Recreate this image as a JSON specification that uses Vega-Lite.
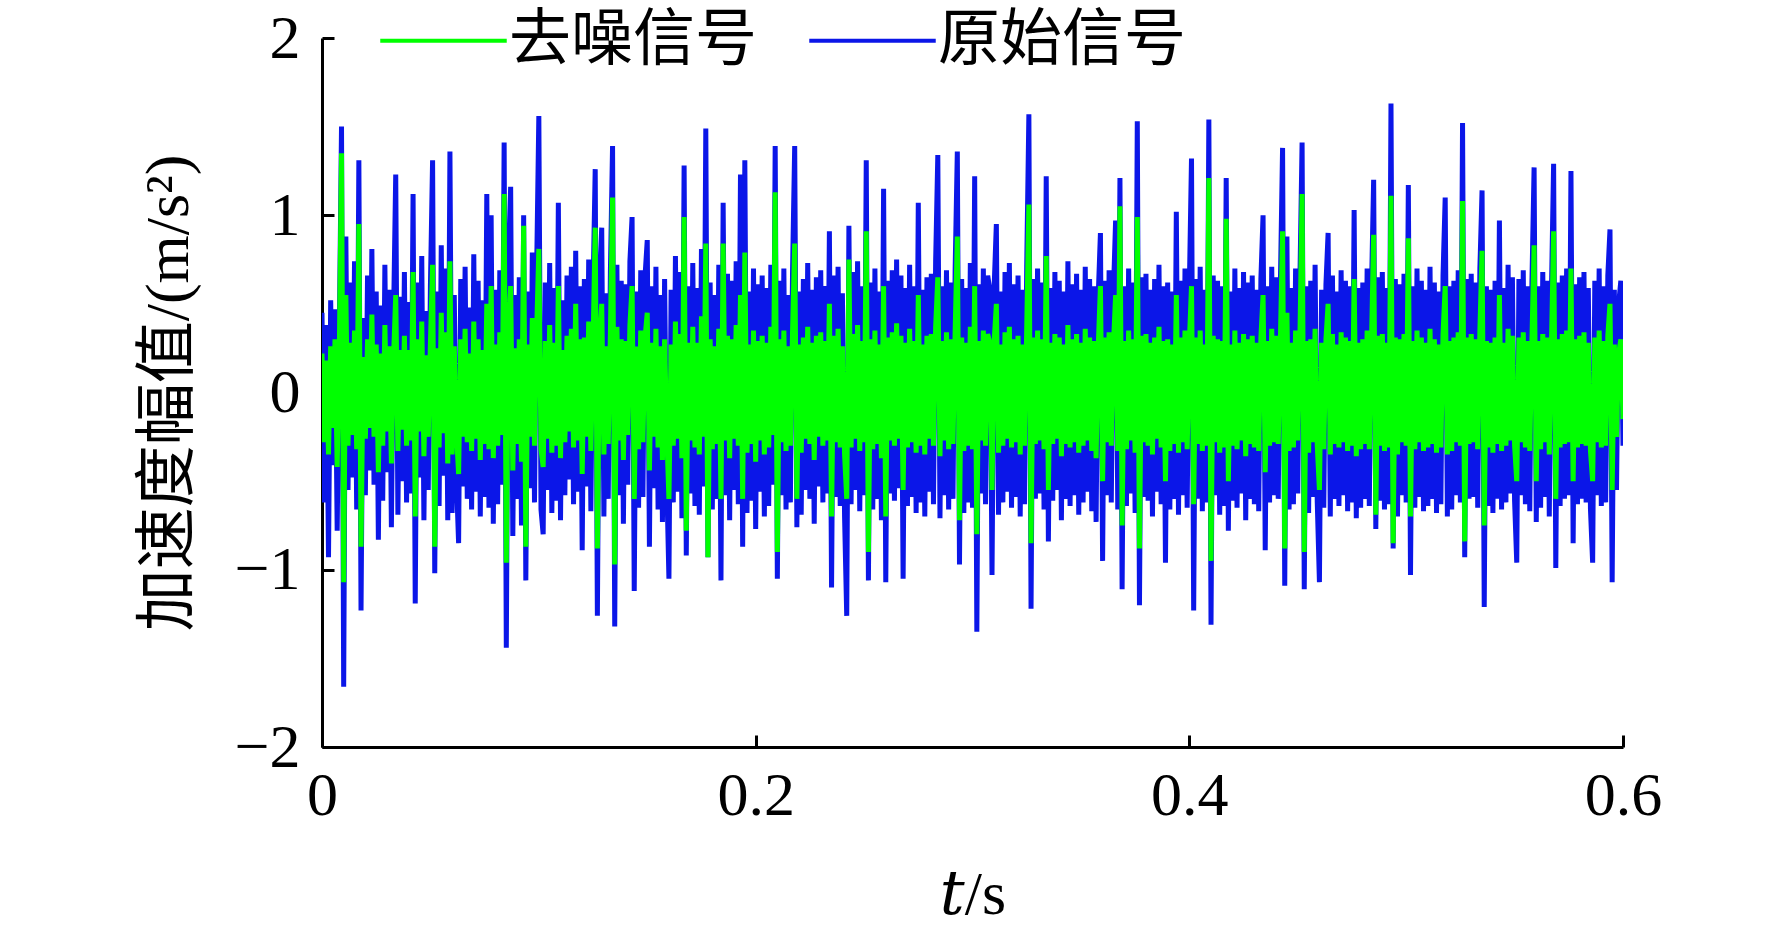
{
  "$schema": "https://vega.github.io/schema/vega-lite/v6.json",
  "width": 1301,
  "height": 709,
  "autosize": {"type": "none"},
  "padding": {"left": 322, "top": 38, "right": 149, "bottom": 186},
  "background": "white",
  "config": {"view": {"stroke": null}, "font": "Liberation Serif"},
  "data": {"values": [
    {"t":0,"o":0.45,"g":0.22},{"t":0.001,"o":-0.62,"g":-0.28},{"t":0.002,"o":0.38,"g":0.18},{"t":0.003,"o":-0.93,"g":-0.35},{"t":0.004,"o":0.52,"g":0.26},{"t":0.005,"o":-0.41,"g":-0.2},{"t":0.006,"o":0.47,"g":0.3},{"t":0.007,"o":-0.78,"g":-0.42},{"t":0.008,"o":0.35,"g":0.25},{"t":0.009,"o":1.5,"g":1.35},
    {"t":0.01,"o":-1.66,"g":-1.07},{"t":0.011,"o":0.88,"g":0.55},{"t":0.012,"o":-0.55,"g":-0.3},{"t":0.013,"o":0.62,"g":0.28},{"t":0.014,"o":-0.48,"g":-0.24},{"t":0.015,"o":0.74,"g":0.35},{"t":0.016,"o":-0.66,"g":-0.32},{"t":0.017,"o":1.31,"g":0.95},{"t":0.018,"o":-1.23,"g":-0.87},{"t":0.019,"o":0.42,"g":0.2},
    {"t":0.02,"o":-0.58,"g":-0.26},{"t":0.021,"o":0.66,"g":0.3},{"t":0.022,"o":-0.44,"g":-0.2},{"t":0.023,"o":0.81,"g":0.44},{"t":0.024,"o":-0.52,"g":-0.25},{"t":0.025,"o":0.57,"g":0.27},{"t":0.026,"o":-0.83,"g":-0.45},{"t":0.027,"o":0.49,"g":0.22},{"t":0.028,"o":-0.61,"g":-0.3},{"t":0.029,"o":0.72,"g":0.38},
    {"t":0.03,"o":-0.45,"g":-0.22},{"t":0.031,"o":0.58,"g":0.26},{"t":0.032,"o":-0.76,"g":-0.4},{"t":0.033,"o":0.43,"g":0.2},{"t":0.034,"o":1.23,"g":0.55},{"t":0.035,"o":-0.69,"g":-0.33},{"t":0.036,"o":0.54,"g":0.24},{"t":0.037,"o":-0.5,"g":-0.21},{"t":0.038,"o":0.68,"g":0.32},{"t":0.039,"o":-0.62,"g":-0.3},
    {"t":0.04,"o":0.51,"g":0.24},{"t":0.041,"o":-0.57,"g":-0.27},{"t":0.042,"o":1.12,"g":0.68},{"t":0.043,"o":-1.19,"g":-0.7},{"t":0.044,"o":0.62,"g":0.3},{"t":0.045,"o":-0.48,"g":-0.22},{"t":0.046,"o":0.77,"g":0.4},{"t":0.047,"o":-0.72,"g":-0.36},{"t":0.048,"o":0.46,"g":0.21},{"t":0.049,"o":-0.55,"g":-0.25},
    {"t":0.05,"o":0.6,"g":0.28},{"t":0.051,"o":1.31,"g":0.72},{"t":0.052,"o":-1.02,"g":-0.87},{"t":0.053,"o":0.57,"g":0.25},{"t":0.054,"o":-0.64,"g":-0.31},{"t":0.055,"o":0.83,"g":0.45},{"t":0.056,"o":-0.47,"g":-0.23},{"t":0.057,"o":0.7,"g":0.34},{"t":0.058,"o":-0.72,"g":-0.4},{"t":0.059,"o":1.36,"g":0.74},
    {"t":0.06,"o":-0.68,"g":-0.35},{"t":0.061,"o":0.55,"g":0.26},{"t":0.062,"o":-0.49,"g":-0.22},{"t":0.063,"o":-0.85,"g":-0.46},{"t":0.064,"o":0.64,"g":0.3},{"t":0.065,"o":-0.53,"g":-0.25},{"t":0.066,"o":0.71,"g":0.36},{"t":0.067,"o":-0.6,"g":-0.28},{"t":0.068,"o":0.48,"g":0.22},{"t":0.069,"o":-0.66,"g":-0.33},
    {"t":0.07,"o":0.78,"g":0.4},{"t":0.071,"o":-0.56,"g":-0.26},{"t":0.072,"o":0.63,"g":0.3},{"t":0.073,"o":-0.7,"g":-0.38},{"t":0.074,"o":0.52,"g":0.24},{"t":0.075,"o":-0.59,"g":-0.29},{"t":0.076,"o":1.12,"g":0.5},{"t":0.077,"o":-0.65,"g":-0.32},{"t":0.078,"o":1.0,"g":0.6},{"t":0.079,"o":-0.74,"g":-0.37},
    {"t":0.08,"o":0.58,"g":0.27},{"t":0.081,"o":-0.63,"g":-0.3},{"t":0.082,"o":0.69,"g":0.34},{"t":0.083,"o":-0.52,"g":-0.24},{"t":0.084,"o":1.41,"g":1.12},{"t":0.085,"o":-1.44,"g":-0.96},{"t":0.086,"o":0.76,"g":0.38},{"t":0.087,"o":1.16,"g":0.6},{"t":0.088,"o":-0.81,"g":-0.44},{"t":0.089,"o":0.55,"g":0.25},
    {"t":0.09,"o":-0.6,"g":-0.29},{"t":0.091,"o":0.65,"g":0.3},{"t":0.092,"o":-0.75,"g":-0.39},{"t":0.093,"o":1.0,"g":0.94},{"t":0.094,"o":-1.06,"g":-0.87},{"t":0.095,"o":0.57,"g":0.27},{"t":0.096,"o":-0.54,"g":-0.25},{"t":0.097,"o":0.79,"g":0.42},{"t":0.098,"o":-0.62,"g":-0.3},{"t":0.099,"o":0.7,"g":0.35},
    {"t":0.1,"o":1.56,"g":0.81},{"t":0.101,"o":-0.66,"g":-0.32},{"t":0.102,"o":-0.8,"g":-0.42},{"t":0.103,"o":0.62,"g":0.29},{"t":0.104,"o":-0.55,"g":-0.26},{"t":0.105,"o":0.73,"g":0.38},{"t":0.106,"o":-0.68,"g":-0.34},{"t":0.107,"o":0.59,"g":0.28},{"t":0.108,"o":-0.61,"g":-0.3},{"t":0.109,"o":1.07,"g":0.6},
    {"t":0.11,"o":-0.72,"g":-0.37},{"t":0.111,"o":0.52,"g":0.24},{"t":0.112,"o":-0.58,"g":-0.28},{"t":0.113,"o":0.66,"g":0.32},{"t":0.114,"o":-0.49,"g":-0.22},{"t":0.115,"o":0.71,"g":0.36},{"t":0.116,"o":-0.63,"g":-0.31},{"t":0.117,"o":0.8,"g":0.5},{"t":0.118,"o":-0.56,"g":-0.27},{"t":0.119,"o":0.6,"g":0.3},
    {"t":0.12,"o":-0.89,"g":-0.46},{"t":0.121,"o":0.64,"g":0.31},{"t":0.122,"o":-0.53,"g":-0.25},{"t":0.123,"o":0.75,"g":0.4},{"t":0.124,"o":-0.67,"g":-0.33},{"t":0.125,"o":0.58,"g":0.27},{"t":0.126,"o":1.26,"g":0.93},{"t":0.127,"o":-1.26,"g":-0.88},{"t":0.128,"o":0.62,"g":0.3},{"t":0.129,"o":0.93,"g":0.5},
    {"t":0.13,"o":-0.7,"g":-0.35},{"t":0.131,"o":0.56,"g":0.26},{"t":0.132,"o":-0.6,"g":-0.29},{"t":0.133,"o":0.68,"g":0.33},{"t":0.134,"o":1.39,"g":1.1},{"t":0.135,"o":-1.32,"g":-0.97},{"t":0.136,"o":0.72,"g":0.37},{"t":0.137,"o":-0.58,"g":-0.27},{"t":0.138,"o":0.63,"g":0.3},{"t":0.139,"o":-0.74,"g":-0.38},
    {"t":0.14,"o":0.61,"g":0.29},{"t":0.141,"o":-0.52,"g":-0.24},{"t":0.142,"o":0.74,"g":0.38},{"t":0.143,"o":0.99,"g":0.6},{"t":0.144,"o":-1.12,"g":-0.6},{"t":0.145,"o":0.57,"g":0.26},{"t":0.146,"o":-0.65,"g":-0.32},{"t":0.147,"o":0.69,"g":0.35},{"t":0.148,"o":-0.59,"g":-0.28},{"t":0.149,"o":0.66,"g":0.31},
    {"t":0.15,"o":0.86,"g":0.45},{"t":0.151,"o":-0.87,"g":-0.44},{"t":0.152,"o":0.6,"g":0.28},{"t":0.153,"o":-0.54,"g":-0.25},{"t":0.154,"o":0.71,"g":0.36},{"t":0.155,"o":-0.66,"g":-0.31},{"t":0.156,"o":0.55,"g":0.26},{"t":0.157,"o":-0.73,"g":-0.38},{"t":0.158,"o":0.64,"g":0.3},{"t":0.159,"o":-0.5,"g":-0.23},
    {"t":0.16,"o":-1.05,"g":-0.6},{"t":0.161,"o":0.58,"g":0.27},{"t":0.162,"o":-0.62,"g":-0.3},{"t":0.163,"o":0.77,"g":0.4},{"t":0.164,"o":-0.56,"g":-0.26},{"t":0.165,"o":0.68,"g":0.33},{"t":0.166,"o":-0.71,"g":-0.37},{"t":0.167,"o":1.28,"g":0.99},{"t":0.168,"o":-0.92,"g":-0.78},{"t":0.169,"o":0.6,"g":0.28},
    {"t":0.17,"o":-0.57,"g":-0.27},{"t":0.171,"o":0.73,"g":0.37},{"t":0.172,"o":-0.64,"g":-0.31},{"t":0.173,"o":0.59,"g":0.28},{"t":0.174,"o":-0.69,"g":-0.35},{"t":0.175,"o":0.81,"g":0.43},{"t":0.176,"o":-0.53,"g":-0.25},{"t":0.177,"o":1.49,"g":0.84},{"t":0.178,"o":-0.93,"g":-0.93},{"t":0.179,"o":0.62,"g":0.3},
    {"t":0.18,"o":-0.66,"g":-0.32},{"t":0.181,"o":0.55,"g":0.26},{"t":0.182,"o":-0.6,"g":-0.29},{"t":0.183,"o":0.72,"g":0.36},{"t":0.184,"o":-1.06,"g":-0.6},{"t":0.185,"o":1.07,"g":0.84},{"t":0.186,"o":-0.58,"g":-0.27},{"t":0.187,"o":0.67,"g":0.32},{"t":0.188,"o":-0.72,"g":-0.37},{"t":0.189,"o":0.63,"g":0.3},
    {"t":0.19,"o":-0.55,"g":-0.26},{"t":0.191,"o":0.74,"g":0.38},{"t":0.192,"o":-0.63,"g":-0.3},{"t":0.193,"o":1.23,"g":0.55},{"t":0.194,"o":-0.87,"g":-0.6},{"t":0.195,"o":1.31,"g":0.79},{"t":0.196,"o":-0.68,"g":-0.34},{"t":0.197,"o":0.57,"g":0.27},{"t":0.198,"o":-0.61,"g":-0.29},{"t":0.199,"o":0.7,"g":0.35},
    {"t":0.2,"o":-0.77,"g":-0.39},{"t":0.201,"o":0.61,"g":0.29},{"t":0.202,"o":-0.56,"g":-0.27},{"t":0.203,"o":0.66,"g":0.32},{"t":0.204,"o":-0.7,"g":-0.35},{"t":0.205,"o":0.59,"g":0.28},{"t":0.206,"o":-0.64,"g":-0.31},{"t":0.207,"o":0.72,"g":0.37},{"t":0.208,"o":-0.52,"g":-0.24},{"t":0.209,"o":1.39,"g":1.13},
    {"t":0.21,"o":-1.05,"g":-0.9},{"t":0.211,"o":0.63,"g":0.3},{"t":0.212,"o":-0.58,"g":-0.28},{"t":0.213,"o":0.7,"g":0.35},{"t":0.214,"o":-0.66,"g":-0.33},{"t":0.215,"o":0.55,"g":0.26},{"t":0.216,"o":-0.62,"g":-0.3},{"t":0.217,"o":0.68,"g":0.34},{"t":0.218,"o":1.39,"g":0.84},{"t":0.219,"o":-0.76,"g":-0.6},
    {"t":0.22,"o":0.57,"g":0.27},{"t":0.221,"o":-0.69,"g":-0.34},{"t":0.222,"o":0.64,"g":0.31},{"t":0.223,"o":-0.55,"g":-0.26},{"t":0.224,"o":0.73,"g":0.37},{"t":0.225,"o":-0.6,"g":-0.29},{"t":0.226,"o":0.58,"g":0.28},{"t":0.227,"o":-0.74,"g":-0.38},{"t":0.228,"o":0.65,"g":0.32},{"t":0.229,"o":-0.53,"g":-0.25},
    {"t":0.23,"o":0.69,"g":0.34},{"t":0.231,"o":-0.62,"g":-0.3},{"t":0.232,"o":0.6,"g":0.29},{"t":0.233,"o":-0.57,"g":-0.27},{"t":0.234,"o":0.91,"g":0.5},{"t":0.235,"o":-1.1,"g":-0.7},{"t":0.236,"o":0.66,"g":0.32},{"t":0.237,"o":-0.59,"g":-0.28},{"t":0.238,"o":0.71,"g":0.36},{"t":0.239,"o":-0.64,"g":-0.31},
    {"t":0.24,"o":0.56,"g":0.26},{"t":0.241,"o":-0.7,"g":-0.35},{"t":0.242,"o":-1.26,"g":-0.6},{"t":0.243,"o":0.94,"g":0.75},{"t":0.244,"o":-0.63,"g":-0.31},{"t":0.245,"o":0.68,"g":0.33},{"t":0.246,"o":-0.55,"g":-0.26},{"t":0.247,"o":0.74,"g":0.38},{"t":0.248,"o":-0.67,"g":-0.33},{"t":0.249,"o":0.6,"g":0.29},
    {"t":0.25,"o":-0.58,"g":-0.28},{"t":0.251,"o":1.31,"g":0.91},{"t":0.252,"o":-1.06,"g":-0.9},{"t":0.253,"o":0.62,"g":0.3},{"t":0.254,"o":-0.66,"g":-0.32},{"t":0.255,"o":0.7,"g":0.35},{"t":0.256,"o":-0.6,"g":-0.29},{"t":0.257,"o":0.57,"g":0.27},{"t":0.258,"o":-0.72,"g":-0.37},{"t":0.259,"o":1.15,"g":0.6},
    {"t":0.26,"o":-1.07,"g":-0.7},{"t":0.261,"o":0.63,"g":0.31},{"t":0.262,"o":-0.57,"g":-0.27},{"t":0.263,"o":0.69,"g":0.34},{"t":0.264,"o":-0.61,"g":-0.3},{"t":0.265,"o":0.75,"g":0.39},{"t":0.266,"o":-0.54,"g":-0.26},{"t":0.267,"o":0.66,"g":0.32},{"t":0.268,"o":-1.05,"g":-0.55},{"t":0.269,"o":0.59,"g":0.28},
    {"t":0.27,"o":-0.64,"g":-0.31},{"t":0.271,"o":0.72,"g":0.36},{"t":0.272,"o":-0.59,"g":-0.28},{"t":0.273,"o":0.6,"g":0.29},{"t":0.274,"o":-0.68,"g":-0.34},{"t":0.275,"o":1.07,"g":0.55},{"t":0.276,"o":-0.62,"g":-0.3},{"t":0.277,"o":0.58,"g":0.27},{"t":0.278,"o":-0.7,"g":-0.35},{"t":0.279,"o":0.65,"g":0.32},
    {"t":0.28,"o":-0.56,"g":-0.26},{"t":0.281,"o":0.67,"g":0.33},{"t":0.282,"o":-0.63,"g":-0.3},{"t":0.283,"o":0.74,"g":0.37},{"t":0.284,"o":1.34,"g":0.65},{"t":0.285,"o":-0.71,"g":-0.36},{"t":0.286,"o":0.6,"g":0.29},{"t":0.287,"o":-0.58,"g":-0.27},{"t":0.288,"o":0.69,"g":0.34},{"t":0.289,"o":-0.66,"g":-0.32},
    {"t":0.29,"o":0.62,"g":0.3},{"t":0.291,"o":-0.6,"g":-0.29},{"t":0.292,"o":0.7,"g":0.35},{"t":0.293,"o":1.36,"g":0.88},{"t":0.294,"o":-0.97,"g":-0.72},{"t":0.295,"o":0.64,"g":0.31},{"t":0.296,"o":-0.68,"g":-0.33},{"t":0.297,"o":0.59,"g":0.28},{"t":0.298,"o":-0.62,"g":-0.3},{"t":0.299,"o":0.73,"g":0.37},
    {"t":0.3,"o":-0.65,"g":-0.32},{"t":0.301,"o":1.22,"g":0.6},{"t":0.302,"o":-1.35,"g":-0.8},{"t":0.303,"o":0.61,"g":0.29},{"t":0.304,"o":-0.57,"g":-0.27},{"t":0.305,"o":0.7,"g":0.35},{"t":0.306,"o":-0.63,"g":-0.3},{"t":0.307,"o":0.66,"g":0.33},{"t":0.308,"o":0.58,"g":0.28},{"t":0.309,"o":-1.03,"g":-0.55},
    {"t":0.31,"o":0.6,"g":0.29},{"t":0.311,"o":0.95,"g":0.5},{"t":0.312,"o":-0.69,"g":-0.34},{"t":0.313,"o":0.57,"g":0.27},{"t":0.314,"o":-0.62,"g":-0.3},{"t":0.315,"o":0.68,"g":0.34},{"t":0.316,"o":-0.56,"g":-0.26},{"t":0.317,"o":0.73,"g":0.37},{"t":0.318,"o":-0.65,"g":-0.31},{"t":0.319,"o":0.61,"g":0.3},
    {"t":0.32,"o":-0.59,"g":-0.28},{"t":0.321,"o":0.66,"g":0.32},{"t":0.322,"o":-0.7,"g":-0.35},{"t":0.323,"o":0.58,"g":0.27},{"t":0.324,"o":-0.63,"g":-0.3},{"t":0.325,"o":0.71,"g":0.36},{"t":0.326,"o":1.57,"g":1.06},{"t":0.327,"o":-1.22,"g":-0.85},{"t":0.328,"o":0.64,"g":0.31},{"t":0.329,"o":-0.6,"g":-0.29},
    {"t":0.33,"o":0.7,"g":0.35},{"t":0.331,"o":-0.57,"g":-0.27},{"t":0.332,"o":0.62,"g":0.3},{"t":0.333,"o":-0.66,"g":-0.32},{"t":0.334,"o":1.22,"g":0.77},{"t":0.335,"o":-0.84,"g":-0.55},{"t":0.336,"o":0.59,"g":0.28},{"t":0.337,"o":-0.61,"g":-0.29},{"t":0.338,"o":0.68,"g":0.33},{"t":0.339,"o":-0.55,"g":-0.26},
    {"t":0.34,"o":0.63,"g":0.31},{"t":0.341,"o":-0.72,"g":-0.36},{"t":0.342,"o":0.57,"g":0.27},{"t":0.343,"o":-0.6,"g":-0.29},{"t":0.344,"o":0.74,"g":0.38},{"t":0.345,"o":-0.64,"g":-0.31},{"t":0.346,"o":0.61,"g":0.3},{"t":0.347,"o":-0.58,"g":-0.28},{"t":0.348,"o":0.67,"g":0.33},{"t":0.349,"o":-0.69,"g":-0.34},
    {"t":0.35,"o":0.58,"g":0.28},{"t":0.351,"o":-0.62,"g":-0.3},{"t":0.352,"o":0.71,"g":0.36},{"t":0.353,"o":-0.56,"g":-0.27},{"t":0.354,"o":0.64,"g":0.31},{"t":0.355,"o":-0.67,"g":-0.33},{"t":0.356,"o":0.6,"g":0.29},{"t":0.357,"o":-0.73,"g":-0.37},{"t":0.358,"o":0.55,"g":0.26},{"t":0.359,"o":0.9,"g":0.6},
    {"t":0.36,"o":-0.95,"g":-0.5},{"t":0.361,"o":0.63,"g":0.31},{"t":0.362,"o":-0.58,"g":-0.28},{"t":0.363,"o":0.69,"g":0.34},{"t":0.364,"o":-0.62,"g":-0.3},{"t":0.365,"o":0.57,"g":0.27},{"t":0.366,"o":0.97,"g":0.55},{"t":0.367,"o":-0.66,"g":-0.33},{"t":0.368,"o":1.21,"g":1.05},{"t":0.369,"o":-1.11,"g":-0.75},
    {"t":0.37,"o":0.6,"g":0.29},{"t":0.371,"o":-0.64,"g":-0.32},{"t":0.372,"o":0.7,"g":0.35},{"t":0.373,"o":-0.57,"g":-0.27},{"t":0.374,"o":0.62,"g":0.3},{"t":0.375,"o":-0.68,"g":-0.34},{"t":0.376,"o":1.53,"g":0.99},{"t":0.377,"o":-1.2,"g":-0.88},{"t":0.378,"o":0.65,"g":0.32},{"t":0.379,"o":-0.59,"g":-0.28},
    {"t":0.38,"o":0.67,"g":0.33},{"t":0.381,"o":-0.61,"g":-0.3},{"t":0.382,"o":0.58,"g":0.28},{"t":0.383,"o":-0.7,"g":-0.35},{"t":0.384,"o":0.64,"g":0.31},{"t":0.385,"o":-0.56,"g":-0.26},{"t":0.386,"o":0.72,"g":0.37},{"t":0.387,"o":-0.63,"g":-0.31},{"t":0.388,"o":0.6,"g":0.29},{"t":0.389,"o":-0.96,"g":-0.5},
    {"t":0.39,"o":0.62,"g":0.3},{"t":0.391,"o":-0.66,"g":-0.33},{"t":0.392,"o":0.57,"g":0.27},{"t":0.393,"o":-0.6,"g":-0.29},{"t":0.394,"o":1.02,"g":0.55},{"t":0.395,"o":-0.69,"g":-0.34},{"t":0.396,"o":0.63,"g":0.31},{"t":0.397,"o":-0.58,"g":-0.28},{"t":0.398,"o":0.7,"g":0.35},{"t":0.399,"o":-0.65,"g":-0.32},
    {"t":0.4,"o":0.59,"g":0.28},{"t":0.401,"o":1.32,"g":0.6},{"t":0.402,"o":-1.23,"g":-0.63},{"t":0.403,"o":0.64,"g":0.31},{"t":0.404,"o":-0.6,"g":-0.29},{"t":0.405,"o":0.71,"g":0.35},{"t":0.406,"o":-0.67,"g":-0.33},{"t":0.407,"o":0.58,"g":0.27},{"t":0.408,"o":-0.62,"g":-0.3},{"t":0.409,"o":1.54,"g":1.21},
    {"t":0.41,"o":-1.31,"g":-0.95},{"t":0.411,"o":0.66,"g":0.32},{"t":0.412,"o":-0.58,"g":-0.28},{"t":0.413,"o":0.63,"g":0.3},{"t":0.414,"o":-0.69,"g":-0.34},{"t":0.415,"o":0.6,"g":0.29},{"t":0.416,"o":-0.64,"g":-0.31},{"t":0.417,"o":1.21,"g":0.98},{"t":0.418,"o":-0.78,"g":-0.5},{"t":0.419,"o":0.57,"g":0.27},
    {"t":0.42,"o":-0.61,"g":-0.3},{"t":0.421,"o":0.7,"g":0.35},{"t":0.422,"o":-0.65,"g":-0.32},{"t":0.423,"o":0.59,"g":0.28},{"t":0.424,"o":-0.57,"g":-0.27},{"t":0.425,"o":0.68,"g":0.33},{"t":0.426,"o":-0.72,"g":-0.36},{"t":0.427,"o":0.62,"g":0.3},{"t":0.428,"o":-0.6,"g":-0.29},{"t":0.429,"o":0.66,"g":0.32},
    {"t":0.43,"o":-0.63,"g":-0.31},{"t":0.431,"o":0.58,"g":0.28},{"t":0.432,"o":-0.67,"g":-0.33},{"t":0.433,"o":0.64,"g":0.31},{"t":0.434,"o":1.0,"g":0.55},{"t":0.435,"o":-0.89,"g":-0.45},{"t":0.436,"o":0.6,"g":0.29},{"t":0.437,"o":-0.62,"g":-0.3},{"t":0.438,"o":0.71,"g":0.36},{"t":0.439,"o":-0.58,"g":-0.28},
    {"t":0.44,"o":0.65,"g":0.32},{"t":0.441,"o":-0.6,"g":-0.29},{"t":0.442,"o":0.62,"g":0.3},{"t":0.443,"o":1.38,"g":0.91},{"t":0.444,"o":-1.09,"g":-0.88},{"t":0.445,"o":0.88,"g":0.45},{"t":0.446,"o":-0.66,"g":-0.33},{"t":0.447,"o":0.59,"g":0.28},{"t":0.448,"o":-0.63,"g":-0.31},{"t":0.449,"o":0.7,"g":0.35},
    {"t":0.45,"o":-0.57,"g":-0.27},{"t":0.451,"o":0.64,"g":0.31},{"t":0.452,"o":1.41,"g":1.12},{"t":0.453,"o":-1.11,"g":-0.9},{"t":0.454,"o":0.6,"g":0.29},{"t":0.455,"o":-0.68,"g":-0.34},{"t":0.456,"o":0.63,"g":0.3},{"t":0.457,"o":-0.59,"g":-0.28},{"t":0.458,"o":0.72,"g":0.36},{"t":0.459,"o":-0.62,"g":-0.3},
    {"t":0.46,"o":-1.07,"g":-0.55},{"t":0.461,"o":0.58,"g":0.28},{"t":0.462,"o":-0.65,"g":-0.32},{"t":0.463,"o":0.61,"g":0.3},{"t":0.464,"o":0.9,"g":0.5},{"t":0.465,"o":-0.7,"g":-0.35},{"t":0.466,"o":0.66,"g":0.33},{"t":0.467,"o":-0.6,"g":-0.29},{"t":0.468,"o":0.57,"g":0.27},{"t":0.469,"o":-0.64,"g":-0.31},
    {"t":0.47,"o":0.69,"g":0.34},{"t":0.471,"o":-0.58,"g":-0.28},{"t":0.472,"o":0.63,"g":0.31},{"t":0.473,"o":-0.67,"g":-0.33},{"t":0.474,"o":0.6,"g":0.29},{"t":0.475,"o":-0.62,"g":-0.3},{"t":0.476,"o":1.03,"g":0.64},{"t":0.477,"o":-0.71,"g":-0.36},{"t":0.478,"o":0.59,"g":0.28},{"t":0.479,"o":-0.65,"g":-0.32},
    {"t":0.48,"o":0.62,"g":0.3},{"t":0.481,"o":-0.6,"g":-0.29},{"t":0.482,"o":0.7,"g":0.35},{"t":0.483,"o":-0.64,"g":-0.32},{"t":0.484,"o":0.58,"g":0.28},{"t":0.485,"o":1.2,"g":0.89},{"t":0.486,"o":-0.77,"g":-0.69},{"t":0.487,"o":0.65,"g":0.32},{"t":0.488,"o":-0.61,"g":-0.3},{"t":0.489,"o":0.68,"g":0.33},
    {"t":0.49,"o":-0.66,"g":-0.33},{"t":0.491,"o":0.59,"g":0.28},{"t":0.492,"o":-0.63,"g":-0.31},{"t":0.493,"o":1.63,"g":1.11},{"t":0.494,"o":-0.88,"g":-0.85},{"t":0.495,"o":0.64,"g":0.31},{"t":0.496,"o":-0.7,"g":-0.35},{"t":0.497,"o":0.61,"g":0.3},{"t":0.498,"o":-0.58,"g":-0.28},{"t":0.499,"o":0.67,"g":0.33},
    {"t":0.5,"o":-0.62,"g":-0.3},{"t":0.501,"o":1.17,"g":0.87},{"t":0.502,"o":-1.03,"g":-0.7},{"t":0.503,"o":0.6,"g":0.29},{"t":0.504,"o":-0.65,"g":-0.32},{"t":0.505,"o":0.7,"g":0.35},{"t":0.506,"o":-0.59,"g":-0.28},{"t":0.507,"o":0.63,"g":0.31},{"t":0.508,"o":-0.67,"g":-0.33},{"t":0.509,"o":0.58,"g":0.28},
    {"t":0.51,"o":-0.64,"g":-0.31},{"t":0.511,"o":0.71,"g":0.36},{"t":0.512,"o":-0.6,"g":-0.29},{"t":0.513,"o":0.62,"g":0.3},{"t":0.514,"o":-0.68,"g":-0.34},{"t":0.515,"o":0.57,"g":0.27},{"t":0.516,"o":-0.63,"g":-0.31},{"t":0.517,"o":0.66,"g":0.33},{"t":0.518,"o":1.1,"g":0.6},{"t":0.519,"o":-0.7,"g":-0.35},
    {"t":0.52,"o":0.6,"g":0.29},{"t":0.521,"o":-0.66,"g":-0.33},{"t":0.522,"o":0.63,"g":0.31},{"t":0.523,"o":-0.58,"g":-0.28},{"t":0.524,"o":0.69,"g":0.34},{"t":0.525,"o":-0.62,"g":-0.3},{"t":0.526,"o":1.52,"g":1.08},{"t":0.527,"o":-0.93,"g":-0.84},{"t":0.528,"o":0.64,"g":0.31},{"t":0.529,"o":-0.6,"g":-0.29},
    {"t":0.53,"o":0.67,"g":0.33},{"t":0.531,"o":-0.59,"g":-0.28},{"t":0.532,"o":0.62,"g":0.3},{"t":0.533,"o":-0.65,"g":-0.32},{"t":0.534,"o":0.7,"g":0.35},{"t":0.535,"o":1.14,"g":0.8},{"t":0.536,"o":-1.21,"g":-0.75},{"t":0.537,"o":0.6,"g":0.29},{"t":0.538,"o":-0.64,"g":-0.31},{"t":0.539,"o":0.58,"g":0.28},
    {"t":0.54,"o":-0.68,"g":-0.34},{"t":0.541,"o":0.63,"g":0.31},{"t":0.542,"o":-0.6,"g":-0.29},{"t":0.543,"o":0.97,"g":0.55},{"t":0.544,"o":-0.66,"g":-0.33},{"t":0.545,"o":0.59,"g":0.28},{"t":0.546,"o":-0.62,"g":-0.3},{"t":0.547,"o":0.72,"g":0.36},{"t":0.548,"o":-0.57,"g":-0.27},{"t":0.549,"o":0.65,"g":0.32},
    {"t":0.55,"o":-0.61,"g":-0.3},{"t":0.551,"o":-0.96,"g":-0.5},{"t":0.552,"o":0.64,"g":0.31},{"t":0.553,"o":-0.58,"g":-0.28},{"t":0.554,"o":0.69,"g":0.34},{"t":0.555,"o":-0.63,"g":-0.31},{"t":0.556,"o":0.6,"g":0.29},{"t":0.557,"o":-0.67,"g":-0.33},{"t":0.558,"o":0.62,"g":0.3},{"t":0.559,"o":1.27,"g":0.83},
    {"t":0.56,"o":-0.73,"g":-0.5},{"t":0.561,"o":0.6,"g":0.29},{"t":0.562,"o":-0.65,"g":-0.32},{"t":0.563,"o":0.68,"g":0.33},{"t":0.564,"o":-0.59,"g":-0.28},{"t":0.565,"o":0.63,"g":0.31},{"t":0.566,"o":-0.7,"g":-0.35},{"t":0.567,"o":0.57,"g":0.27},{"t":0.568,"o":1.29,"g":0.91},{"t":0.569,"o":-0.99,"g":-0.6},
    {"t":0.57,"o":0.62,"g":0.3},{"t":0.571,"o":-0.64,"g":-0.31},{"t":0.572,"o":0.66,"g":0.33},{"t":0.573,"o":-0.6,"g":-0.29},{"t":0.574,"o":0.7,"g":0.35},{"t":0.575,"o":-0.58,"g":-0.28},{"t":0.576,"o":1.25,"g":0.7},{"t":0.577,"o":-0.85,"g":-0.5},{"t":0.578,"o":0.61,"g":0.3},{"t":0.579,"o":-0.63,"g":-0.31},
    {"t":0.58,"o":0.65,"g":0.32},{"t":0.581,"o":-0.6,"g":-0.29},{"t":0.582,"o":0.68,"g":0.34},{"t":0.583,"o":-0.62,"g":-0.3},{"t":0.584,"o":0.59,"g":0.28},{"t":0.585,"o":-0.66,"g":-0.33},{"t":0.586,"o":-0.96,"g":-0.5},{"t":0.587,"o":0.63,"g":0.31},{"t":0.588,"o":-0.58,"g":-0.28},{"t":0.589,"o":0.7,"g":0.35},
    {"t":0.59,"o":-0.64,"g":-0.31},{"t":0.591,"o":0.6,"g":0.29},{"t":0.592,"o":-0.62,"g":-0.3},{"t":0.593,"o":0.66,"g":0.32},{"t":0.594,"o":0.92,"g":0.5},{"t":0.595,"o":-1.07,"g":-0.55},{"t":0.596,"o":0.58,"g":0.27},{"t":0.597,"o":-0.55,"g":-0.25},{"t":0.598,"o":0.5,"g":0.22},{"t":0.599,"o":0.63,"g":0.3},
    {"t":0.6,"o":-0.3,"g":-0.15}
  ]},
  "encoding": {
    "x": {
      "field": "t",
      "type": "quantitative",
      "title": "𝑡/s",
      "scale": {"domain": [0, 0.6], "nice": false, "zero": false},
      "axis": {
        "values": [0, 0.2, 0.4, 0.6],
        "format": ".1~f",
        "grid": false,
        "labelFlush": false,
        "labelOverlap": false,
        "domainColor": "black",
        "domainWidth": 3,
        "tickColor": "black",
        "tickWidth": 3,
        "tickSize": -12,
        "labelFont": "Liberation Serif",
        "labelFontSize": 62,
        "labelColor": "black",
        "labelPadding": 30,
        "titleFont": "Liberation Serif, DejaVu Serif, DejaVu Sans",
        "titleFontSize": 62,
        "titleFontWeight": "normal",
        "titleColor": "black",
        "titlePadding": 38
      }
    }
  },
  "layer": [
    {
      "mark": {"type": "line", "strokeWidth": 5, "strokeJoin": "bevel", "clip": true},
      "encoding": {
        "y": {
          "field": "o",
          "type": "quantitative",
          "title": "加速度幅值/(m/s²)",
          "scale": {"domain": [-2, 2], "nice": false},
          "axis": {
            "values": [-2, -1, 0, 1, 2],
            "format": "d",
            "grid": false,
            "labelOverlap": false,
            "domainColor": "black",
            "domainWidth": 3,
            "tickColor": "black",
            "tickWidth": 3,
            "tickSize": -12,
            "labelFont": "Liberation Serif",
            "labelFontSize": 62,
            "labelColor": "black",
            "labelPadding": 34,
            "titleFont": "Liberation Serif, Noto Sans CJK SC",
            "titleFontSize": 62,
            "titleFontWeight": "normal",
            "titleColor": "black",
            "titlePadding": 34
          }
        },
        "color": {
          "datum": "原始信号",
          "type": "nominal",
          "scale": {"domain": ["去噪信号", "原始信号"], "range": ["#00ff00", "#0b16e8"]},
          "legend": {
            "title": null,
            "orient": "none",
            "legendX": 56,
            "legendY": -63,
            "direction": "horizontal",
            "padding": 0,
            "symbolType": "stroke",
            "symbolSize": 16000,
            "symbolStrokeWidth": 4,
            "labelFont": "Noto Sans CJK SC",
            "labelFontSize": 62,
            "labelColor": "black",
            "labelLimit": 0,
            "labelOffset": 0,
            "columnPadding": 43
          }
        }
      }
    },
    {
      "mark": {"type": "line", "strokeWidth": 5, "strokeJoin": "bevel", "clip": true},
      "encoding": {
        "y": {
          "field": "g",
          "type": "quantitative",
          "title": "加速度幅值/(m/s²)",
          "scale": {"domain": [-2, 2], "nice": false}
        },
        "color": {"datum": "去噪信号", "type": "nominal"}
      }
    }
  ]
}
